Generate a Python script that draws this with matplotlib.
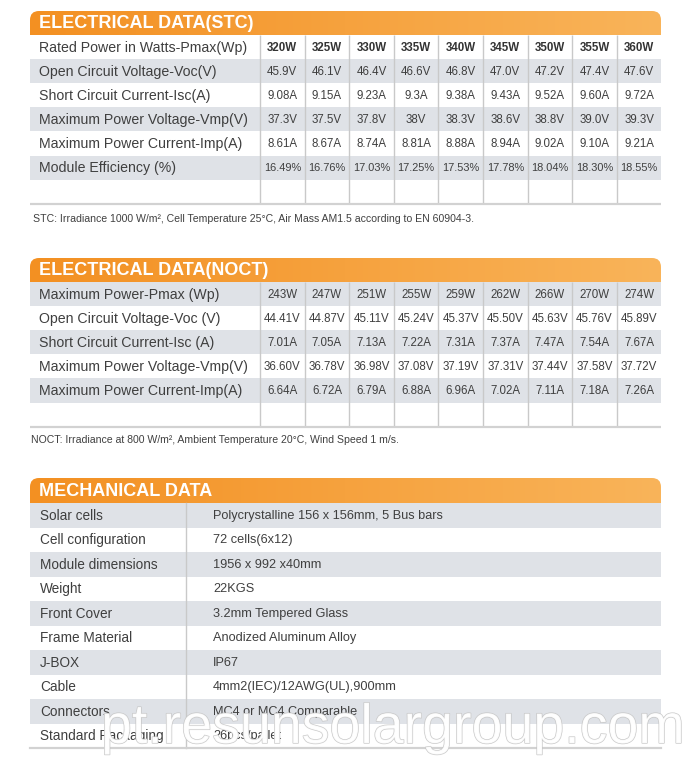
import numpy as np
import matplotlib
matplotlib.use("Agg")
import matplotlib.pyplot as plt
from matplotlib.patches import Rectangle, FancyBboxPatch
from matplotlib.colors import LinearSegmentedColormap
from matplotlib import font_manager as fm
import matplotlib.patheffects as pe

# ---------------- data ----------------
stc_title = "ELECTRICAL DATA(STC)"
stc_labels = ["Rated Power in Watts-Pmax(Wp)", "Open Circuit Voltage-Voc(V)",
              "Short Circuit Current-Isc(A)", "Maximum Power Voltage-Vmp(V)",
              "Maximum Power Current-Imp(A)", "Module Efficiency (%)"]
stc_pmax = ["320W", "325W", "330W", "335W", "340W", "345W", "350W", "355W", "360W"]
stc_voc = ["45.9V", "46.1V", "46.4V", "46.6V", "46.8V", "47.0V", "47.2V", "47.4V", "47.6V"]
stc_isc = ["9.08A", "9.15A", "9.23A", "9.3A", "9.38A", "9.43A", "9.52A", "9.60A", "9.72A"]
stc_vmp = ["37.3V", "37.5V", "37.8V", "38V", "38.3V", "38.6V", "38.8V", "39.0V", "39.3V"]
stc_imp = ["8.61A", "8.67A", "8.74A", "8.81A", "8.88A", "8.94A", "9.02A", "9.10A", "9.21A"]
stc_eff = ["16.49%", "16.76%", "17.03%", "17.25%", "17.53%", "17.78%", "18.04%", "18.30%", "18.55%"]
stc_note = "STC: Irradiance 1000 W/m², Cell Temperature 25°C, Air Mass AM1.5 according to EN 60904-3."

noct_title = "ELECTRICAL DATA(NOCT)"
noct_labels = ["Maximum Power-Pmax (Wp)", "Open Circuit Voltage-Voc (V)",
               "Short Circuit Current-Isc (A)", "Maximum Power Voltage-Vmp(V)",
               "Maximum Power Current-Imp(A)"]
noct_pmax = ["243W", "247W", "251W", "255W", "259W", "262W", "266W", "270W", "274W"]
noct_voc = ["44.41V", "44.87V", "45.11V", "45.24V", "45.37V", "45.50V", "45.63V", "45.76V", "45.89V"]
noct_isc = ["7.01A", "7.05A", "7.13A", "7.22A", "7.31A", "7.37A", "7.47A", "7.54A", "7.67A"]
noct_vmp = ["36.60V", "36.78V", "36.98V", "37.08V", "37.19V", "37.31V", "37.44V", "37.58V", "37.72V"]
noct_imp = ["6.64A", "6.72A", "6.79A", "6.88A", "6.96A", "7.02A", "7.11A", "7.18A", "7.26A"]
noct_note = "NOCT: Irradiance at 800 W/m², Ambient Temperature 20°C, Wind Speed 1 m/s."

mech_title = "MECHANICAL DATA"
mech_labels = ["Solar cells", "Cell configuration", "Module dimensions", "Weight",
               "Front Cover", "Frame Material", "J-BOX", "Cable", "Connectors",
               "Standard Packaging"]
mech_values = ["Polycrystalline 156 x 156mm, 5 Bus bars", "72 cells(6x12)",
               "1956 x 992 x40mm", "22KGS", "3.2mm Tempered Glass",
               "Anodized Aluminum Alloy", "IP67", "4mm2(IEC)/12AWG(UL),900mm",
               "MC4 or MC4 Comparable", "26pcs/pallet"]
watermark = "pt.resunsolargroup.com"

# ---------------- style ----------------
def has_font(name):
    try:
        fm.findfont(fm.FontProperties(family=name), fallback_to_default=False)
        return True
    except Exception:
        return False

SANS = "Liberation Sans"
NARROW = "Liberation Sans Narrow" if has_font("Liberation Sans Narrow") else "Liberation Sans"

GRAY = "#DFE2E7"
LINE = "#C9C9C9"
TXT = "#3F3F3F"
ORANGE_L = "#F39022"
ORANGE_R = "#F9B45A"

W, H = 692, 766
fig = plt.figure(figsize=(W / 100, H / 100), dpi=100)
ax = fig.add_axes([0, 0, 1, 1])
ax.axis("off")

X0, X1 = 30, 661
COL0, COLW, NCOL = 260, 44.6, 9
cmap = LinearSegmentedColormap.from_list("orng", [ORANGE_L, ORANGE_R])


def header(y0, y1, title):
    r = 9
    grad = np.linspace(0, 1, 256).reshape(1, -1)
    im = ax.imshow(grad, extent=(X0, X1, y1 + r, y0), cmap=cmap, aspect="auto",
                   zorder=1, interpolation="bilinear")
    clip = FancyBboxPatch((X0, y0), X1 - X0, (y1 - y0) + r,
                          boxstyle=f"round,pad=0,rounding_size={r}",
                          facecolor="none", edgecolor="none")
    ax.add_patch(clip)
    im.set_clip_path(clip)
    ax.text(39, (y0 + y1) / 2 + 0.5, title, color="white", fontsize=13,
            fontweight="bold", family=SANS, va="center", ha="left", zorder=5)


def rows(y0, n, h, first_gray):
    edges = [y0 + i * h for i in range(n + 1)]
    for i in range(n):
        gray = (i % 2 == 0) == first_gray
        ax.add_patch(Rectangle((X0, edges[i]), X1 - X0, h,
                               facecolor=GRAY if gray else "white",
                               edgecolor="none", zorder=2))
    return edges


def electrical(y_head0, y_head1, title, labels, series, n_rows, first_gray,
               bold_first, eff_last, note, note_y, note_x):
    header(y_head0, y_head1, title)
    h = 24.1
    edges = rows(y_head1, n_rows, h, first_gray)
    ybot = edges[-1]
    for k in range(NCOL):
        xl = COL0 + k * COLW
        ax.plot([xl, xl], [y_head1, ybot], color=LINE, lw=1.0, zorder=3,
                solid_capstyle="butt")
    ax.plot([X0, X1], [ybot, ybot], color="#D2D2D2", lw=1.6, zorder=3,
            solid_capstyle="butt")
    for i, lab in enumerate(labels):
        yc = (edges[i] + edges[i + 1]) / 2
        ax.text(39, yc + 0.5, lab, fontsize=10.2, family=SANS, color=TXT,
                va="center", ha="left", zorder=5)
        vals = series[i]
        for k, v in enumerate(vals):
            xc = COL0 + (k + 0.5) * COLW
            if i == 0 and bold_first:
                ax.text(xc, yc + 0.5, v, fontsize=8.3, family=SANS,
                        fontweight="bold", color="#333333", va="center",
                        ha="center", zorder=5)
            elif eff_last and i == len(labels) - 1:
                ax.text(xc, yc, v, fontsize=7.9, family=SANS, color=TXT,
                        va="center", ha="center", zorder=5)
            else:
                ax.text(xc, yc + 0.5, v, fontsize=8.3, family=NARROW,
                        color=TXT, va="center", ha="center", zorder=5)
    ax.text(note_x, note_y, note, fontsize=7.6, family=SANS, color="#404040",
            va="center", ha="left", zorder=5)


electrical(11, 35, stc_title, stc_labels,
           [stc_pmax, stc_voc, stc_isc, stc_vmp, stc_imp, stc_eff],
           7, False, True, True, stc_note, 219, 33)

electrical(258, 282, noct_title, noct_labels,
           [noct_pmax, noct_voc, noct_isc, noct_vmp, noct_imp],
           6, True, False, False, noct_note, 440, 31)

# mechanical
header(478, 503, mech_title)
mh = 24.5
medges = rows(503, len(mech_labels), mh, True)
ax.plot([186, 186], [503, medges[-1]], color=LINE, lw=1.0, zorder=3)
ax.plot([X0, X1], [medges[-1], medges[-1]], color="#D2D2D2", lw=1.6, zorder=3)
for i, (lab, val) in enumerate(zip(mech_labels, mech_values)):
    yc = (medges[i] + medges[i + 1]) / 2
    ax.text(40, yc + 0.5, lab, fontsize=9.8, family=SANS, color=TXT,
            va="center", ha="left", zorder=5)
    ax.text(213, yc + 0.5, val, fontsize=9.2, family=SANS, color=TXT,
            va="center", ha="left", zorder=5)

# watermark
wm_size = 45 if NARROW != SANS else 40
ax.text(101, 743, watermark, fontsize=wm_size, family=NARROW, color="white",
        alpha=0.9, va="baseline", ha="left", zorder=8,
        path_effects=[pe.withStroke(linewidth=1.0, foreground="#C4C4C4")])

ax.set_xlim(0, W)
ax.set_ylim(H, 0)
ax.set_aspect("auto")
fig.savefig("out.png", dpi=100, facecolor="white")
